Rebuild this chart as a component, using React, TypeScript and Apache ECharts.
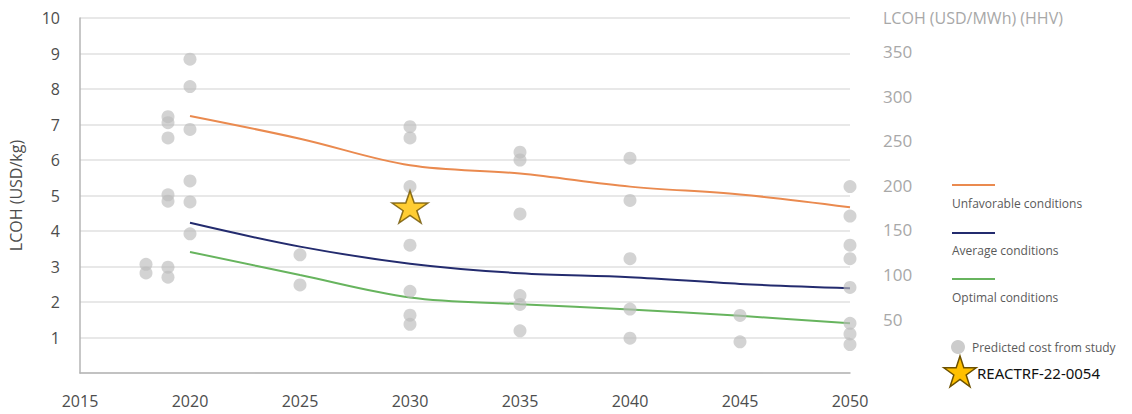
import React, { useEffect, useRef } from "react";
import * as echarts from "echarts";

const xTicks = [2015, 2020, 2025, 2030, 2035, 2040, 2045, 2050];
const leftTicks = [0, 1, 2, 3, 4, 5, 6, 7, 8, 9, 10];
const rightTicks = [50, 100, 150, 200, 250, 300, 350];

const lineYears = [2020, 2025, 2030, 2035, 2040, 2045, 2050];
const unfavorable = [7.24, 6.6, 5.85, 5.62, 5.25, 5.03, 4.67];
const average = [4.23, 3.56, 3.08, 2.81, 2.7, 2.51, 2.39];
const optimal = [3.41, 2.76, 2.13, 1.94, 1.79, 1.61, 1.4];

const studyPoints: [number, number][] = [
  [2018, 3.06], [2018, 2.82],
  [2019, 7.22], [2019, 7.05], [2019, 6.62], [2019, 5.02], [2019, 4.84], [2019, 2.98], [2019, 2.7],
  [2020, 8.84], [2020, 8.07], [2020, 6.86], [2020, 5.41], [2020, 4.82], [2020, 3.92],
  [2025, 3.33], [2025, 2.48],
  [2030, 6.94], [2030, 6.62], [2030, 5.25], [2030, 3.6], [2030, 2.3], [2030, 1.63], [2030, 1.37],
  [2035, 6.22], [2035, 6.0], [2035, 4.48], [2035, 2.18], [2035, 1.93], [2035, 1.19],
  [2040, 6.05], [2040, 4.86], [2040, 3.22], [2040, 1.8], [2040, 0.98],
  [2045, 1.62], [2045, 0.88],
  [2050, 5.25], [2050, 4.42], [2050, 3.6], [2050, 3.22], [2050, 2.41], [2050, 1.4], [2050, 1.1], [2050, 0.8],
];

const reactrf: [number, number][] = [[2030, 4.68]];

const seriesNames = ["Unfavorable conditions", "Average conditions", "Optimal conditions"];
const studyName = "Predicted cost from study";
const starName = "REACTRF-22-0054";

const ORANGE = "#EA8A4F";
const NAVY = "#232B6E";
const GREEN = "#67B45E";
const STAR_PATH =
  "path://M50,0 L61.2,34.5 L97.6,34.5 L68.2,55.9 L79.4,90.5 L50,69.1 L20.6,90.5 L31.8,55.9 L2.4,34.5 L38.8,34.5 Z";

function starPoints(cx: number, cy: number, r: number): number[][] {
  const pts: number[][] = [];
  for (let k = 0; k < 10; k++) {
    const rr = k % 2 === 0 ? r : r * 0.382;
    const a = ((-90 + k * 36) * Math.PI) / 180;
    pts.push([cx + rr * Math.cos(a), cy + rr * Math.sin(a)]);
  }
  return pts;
}

export default function App() {
  const ref = useRef<HTMLDivElement>(null);
  useEffect(() => {
    if (!ref.current) return;
    const chart = echarts.init(ref.current, undefined, { renderer: "svg" });
    const font = "'Open Sans', sans-serif";
    const lineSeries = [unfavorable, average, optimal].map((vals, i) => ({
      name: seriesNames[i],
      type: "line",
      smooth: 0.35,
      showSymbol: false,
      symbol: "none",
      data: lineYears.map((y, j) => [y, vals[j]]),
      lineStyle: { color: [ORANGE, NAVY, GREEN][i], width: 2 },
      itemStyle: { color: [ORANGE, NAVY, GREEN][i] },
      z: 2,
    }));
    const legendText = (text: string, x: number, y: number, size = 12, color = "#5a5a5a", ff = font) => ({
      type: "text",
      x,
      y,
      style: { text, fill: color, font: `${size}px ${ff}`, verticalAlign: "middle", align: "left" },
    });
    const legendLine = (color: string, y: number) => ({
      type: "line",
      shape: { x1: 952, y1: y, x2: 995, y2: y },
      style: { stroke: color, lineWidth: 2 },
    });
    chart.setOption({
      animation: false,
      backgroundColor: "#ffffff",
      textStyle: { fontFamily: font },
      grid: { left: 80, right: 282, top: 18, bottom: 41, containLabel: false, outerBoundsMode: "none" },
      xAxis: {
        type: "value",
        min: xTicks[0],
        max: xTicks[xTicks.length - 1],
        interval: 5,
        axisLine: { show: true, lineStyle: { color: "#b5b5b5", width: 1.5 } },
        axisTick: { show: false },
        splitLine: { show: false },
        axisLabel: {
          color: "#4d4d4d",
          fontSize: 16,
          margin: 20,
          fontFamily: font,
          formatter: (v: number) => String(v),
        },
      },
      yAxis: [
        {
          type: "value",
          min: leftTicks[0],
          max: leftTicks[leftTicks.length - 1],
          interval: 1,
          position: "left",
          name: "LCOH (USD/kg)",
          nameLocation: "middle",
          nameGap: 56,
          nameTextStyle: { color: "#4d4d4d", fontSize: 16, fontFamily: font },
          axisLine: { show: true, lineStyle: { color: "#b5b5b5", width: 1.5 } },
          axisTick: { show: false },
          splitLine: { show: true, lineStyle: { color: "#e0e0e0", width: 1.5 } },
          axisLabel: {
            color: "#4d4d4d",
            fontSize: 16,
            margin: 20,
            fontFamily: font,
            formatter: (v: number) => (v === 0 ? "" : String(v)),
          },
        },
        {
          type: "value",
          min: -10.5,
          max: 387.5,
          position: "right",
          name: "LCOH (USD/MWh) (HHV)",
          nameLocation: "end",
          nameGap: 0,
          nameTextStyle: {
            color: "#a8a8a8",
            fontSize: 16,
            fontFamily: font,
            align: "left",
            verticalAlign: "middle",
            padding: [0, 0, 0, 33],
          },
          axisLine: { show: false },
          axisTick: { show: false },
          splitLine: { show: false },
          axisLabel: {
            color: "#a8a8a8",
            fontSize: 17,
            margin: 33,
            fontFamily: font,
            customValues: rightTicks,
          },
        },
      ],
      series: [
        ...lineSeries,
        {
          name: studyName,
          type: "scatter",
          data: studyPoints,
          symbol: "circle",
          symbolSize: 13,
          itemStyle: { color: "rgba(188,188,188,0.82)" },
          z: 3,
        },
        {
          name: starName,
          type: "scatter",
          data: reactrf,
          symbol: STAR_PATH,
          symbolKeepAspect: true,
          symbolSize: [36, 34],
          itemStyle: { color: "#FFC000", borderColor: "#6E5200", borderWidth: 1.5 },
          z: 4,
        },
      ],
      graphic: [
        legendLine(ORANGE, 185),
        legendText(seriesNames[0], 952, 203),
        legendLine(NAVY, 233),
        legendText(seriesNames[1], 952, 250),
        legendLine(GREEN, 279),
        legendText(seriesNames[2], 952, 297),
        { type: "circle", shape: { cx: 958, cy: 347, r: 7 }, style: { fill: "#cccccc" } },
        legendText(studyName, 972, 347),
        {
          type: "polygon",
          shape: { points: starPoints(960, 373, 17) },
          style: { fill: "#FFC000", stroke: "#6E5200", lineWidth: 1.5 },
        },
        legendText(starName, 977, 373, 15, "#111111", "'Noto Sans', sans-serif"),
      ],
    });
    return () => chart.dispose();
  }, []);
  return (
    <div
      ref={ref}
      style={{ position: "fixed", left: 0, top: 0, width: 1132, height: 414, background: "#fff" }}
    />
  );
}
